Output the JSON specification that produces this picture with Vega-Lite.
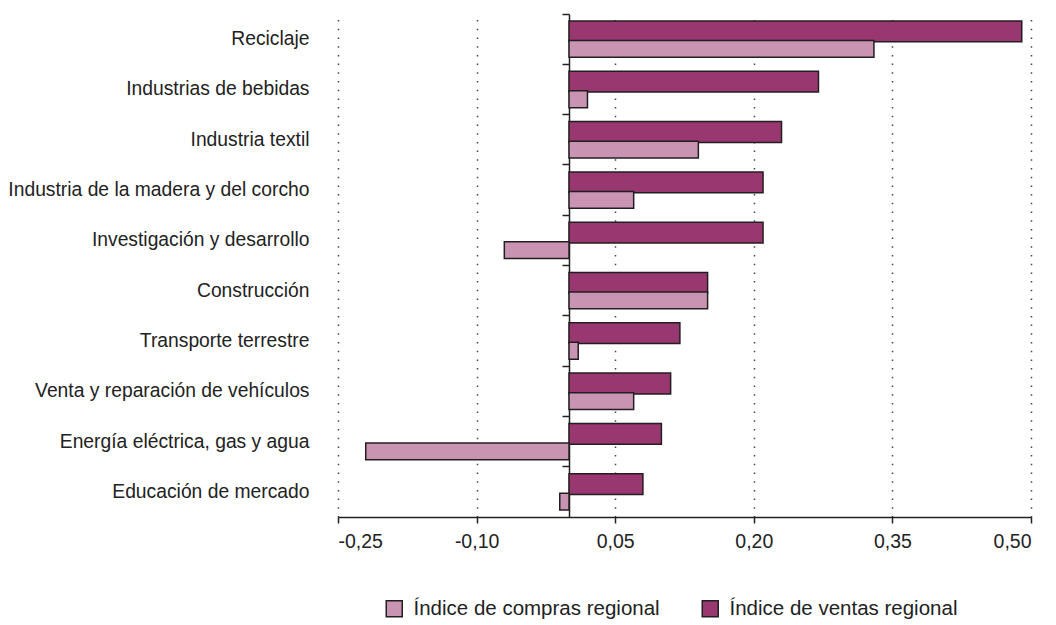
{
  "$schema": "https://vega.github.io/schema/vega-lite/v6.json",
  "autosize": "none",
  "width": 693,
  "height": 503,
  "padding": {"left": 338, "top": 14, "right": 25, "bottom": 108},
  "background": "white",
  "config": {"view": {"stroke": null}, "font": "Liberation Sans"},
  "data": {"values": [
    {"cat": "Reciclaje", "serie": "Índice de ventas regional", "valor": 0.49},
    {"cat": "Reciclaje", "serie": "Índice de compras regional", "valor": 0.33},
    {"cat": "Industrias de bebidas", "serie": "Índice de ventas regional", "valor": 0.27},
    {"cat": "Industrias de bebidas", "serie": "Índice de compras regional", "valor": 0.02},
    {"cat": "Industria textil", "serie": "Índice de ventas regional", "valor": 0.23},
    {"cat": "Industria textil", "serie": "Índice de compras regional", "valor": 0.14},
    {"cat": "Industria de la madera y del corcho", "serie": "Índice de ventas regional", "valor": 0.21},
    {"cat": "Industria de la madera y del corcho", "serie": "Índice de compras regional", "valor": 0.07},
    {"cat": "Investigación y desarrollo", "serie": "Índice de ventas regional", "valor": 0.21},
    {"cat": "Investigación y desarrollo", "serie": "Índice de compras regional", "valor": -0.07},
    {"cat": "Construcción", "serie": "Índice de ventas regional", "valor": 0.15},
    {"cat": "Construcción", "serie": "Índice de compras regional", "valor": 0.15},
    {"cat": "Transporte terrestre", "serie": "Índice de ventas regional", "valor": 0.12},
    {"cat": "Transporte terrestre", "serie": "Índice de compras regional", "valor": 0.01},
    {"cat": "Venta y reparación de vehículos", "serie": "Índice de ventas regional", "valor": 0.11},
    {"cat": "Venta y reparación de vehículos", "serie": "Índice de compras regional", "valor": 0.07},
    {"cat": "Energía eléctrica, gas y agua", "serie": "Índice de ventas regional", "valor": 0.10},
    {"cat": "Energía eléctrica, gas y agua", "serie": "Índice de compras regional", "valor": -0.22},
    {"cat": "Educación de mercado", "serie": "Índice de ventas regional", "valor": 0.08},
    {"cat": "Educación de mercado", "serie": "Índice de compras regional", "valor": -0.01}
  ]},
  "layer": [
    {
      "transform": [{"filter": "datum.serie === 'Índice de ventas regional'"}],
      "mark": {"type": "bar", "stroke": "#231f20", "strokeWidth": 1.5},
      "encoding": {
        "y": {
          "field": "cat", "type": "nominal", "sort": null,
          "scale": {"paddingInner": 0, "paddingOuter": 0},
          "axis": {"title": null, "domain": false, "ticks": false, "labelPadding": 29, "labelFontSize": 19.3, "labelColor": "#222", "labelLimit": 400}
        },
        "x": {
          "field": "valor", "type": "quantitative",
          "scale": {"domain": [-0.25, 0.5], "nice": false, "zero": false},
          "axis": {
            "title": null,
            "values": [-0.25, -0.1, 0.05, 0.2, 0.35, 0.5],
            "labelExpr": "replace(replace(format(datum.value, '.2f'), '.', ','), '−', '-')",
            "grid": true, "gridDash": [1.5, 7.2], "gridColor": "#444", "gridWidth": 1.5,
            "domainColor": "#222", "domainWidth": 1.5, "tickColor": "#222", "tickWidth": 1.5, "tickSize": 6,
            "labelFontSize": 19.5, "labelColor": "#222", "labelPadding": 9
          }
        },
        "yOffset": {
          "field": "serie", "type": "nominal",
          "scale": {"domain": ["Índice de ventas regional"], "paddingInner": 0, "paddingOuter": 0.709, "align": 0.237}
        },
        "color": {
          "field": "serie", "type": "nominal",
          "scale": {"domain": ["Índice de compras regional", "Índice de ventas regional"], "range": ["#c994b1", "#993770"]},
          "legend": {
            "title": null, "orient": "none", "legendX": 46, "legendY": 584, "direction": "horizontal",
            "symbolType": "square", "symbolSize": 256, "symbolStrokeColor": "#333", "symbolStrokeWidth": 1.5,
            "labelFontSize": 20.5, "labelColor": "#222", "labelOffset": 9, "columnPadding": 39, "labelLimit": 400
          }
        }
      }
    },
    {
      "transform": [{"filter": "datum.serie === 'Índice de compras regional'"}],
      "mark": {"type": "bar", "stroke": "#231f20", "strokeWidth": 1.5},
      "encoding": {
        "y": {"field": "cat", "type": "nominal", "sort": null, "axis": null},
        "x": {"field": "valor", "type": "quantitative"},
        "yOffset": {
          "field": "serie", "type": "nominal",
          "scale": {"domain": ["Índice de compras regional"], "paddingInner": 0, "paddingOuter": 1.155, "align": 0.792}
        },
        "color": {"field": "serie", "type": "nominal"}
      }
    },
    {
      "mark": {"type": "point", "opacity": 0},
      "encoding": {
        "y": {
          "field": "cat", "type": "nominal", "sort": null,
          "axis": {"title": null, "orient": "left", "offset": -231, "labels": false, "domain": true, "ticks": true, "bandPosition": 0, "tickSize": 7, "domainColor": "#222", "domainWidth": 1.5, "tickColor": "#222", "tickWidth": 1.5, "grid": false}
        },
        "x": {"datum": 0, "type": "quantitative"}
      }
    }
  ],
  "resolve": {"axis": {"y": "independent"}, "scale": {"yOffset": "independent"}}
}
